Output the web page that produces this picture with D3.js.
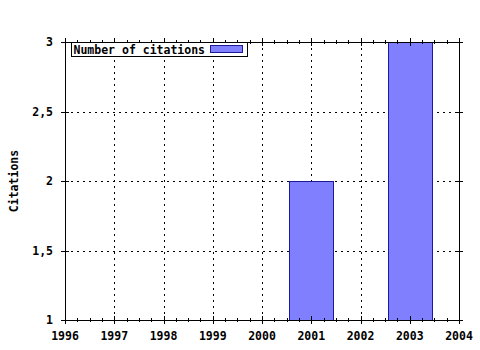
<!DOCTYPE html>
<html>
<head>
<meta charset="UTF-8">
<title>Number of citations</title>
<script src="https://cdnjs.cloudflare.com/ajax/libs/d3/7.8.5/d3.min.js"></script>
<style>
    body { margin: 0; background: #fff; }
    text { font: bold 11.5px "DejaVu Sans Mono", monospace; fill: #000; }
</style>
</head>
<body>
<script>
    // data
    var years = [2001, 2003];
    var citations = [2, 3];
    var xTicks = [1996, 1997, 1998, 1999, 2000, 2001, 2002, 2003, 2004];
    var yTicks = [1, 1.5, 2, 2.5, 3];
    var seriesName = "Number of citations";

    var width = 480, height = 350;
    var margin = {left: 65, right: 21, top: 42, bottom: 30};

    var svg = d3.select("body").append("svg")
        .attr("width", width)
        .attr("height", height);

    var x = d3.scaleLinear().domain([1996, 2004]).range([margin.left, width - margin.right]);
    var y = d3.scaleLinear().domain([1, 3]).range([height - margin.bottom, margin.top]);

    var x0 = x.range()[0], x1 = x.range()[1], y0 = y.range()[0], y1 = y.range()[1];

    // grid
    var grid = svg.append("g").attr("stroke", "#000").attr("stroke-width", 1)
        .attr("stroke-dasharray", "2,4");
    grid.selectAll(".vg").data(xTicks.slice(1, -1)).enter().append("line")
        .attr("x1", function(d) { return Math.round(x(d)) + 0.5; })
        .attr("x2", function(d) { return Math.round(x(d)) + 0.5; })
        .attr("y1", y1).attr("y2", y0);
    grid.selectAll(".hg").data(yTicks.slice(1, -1)).enter().append("line")
        .attr("y1", function(d) { return Math.round(y(d)) + 0.5; })
        .attr("y2", function(d) { return Math.round(y(d)) + 0.5; })
        .attr("x1", x0).attr("x2", x1);

    // bars
    var bw = 0.9;
    svg.selectAll("rect.bar").data(years).enter().append("rect")
        .attr("class", "bar")
        .attr("x", function(d) { return Math.round(x(d - bw / 2)) + 0.5; })
        .attr("width", function(d) { return Math.round(x(d + bw / 2) - x(d - bw / 2)); })
        .attr("y", function(d, i) { return Math.round(y(citations[i])) + 0.5; })
        .attr("height", function(d, i) { return Math.round(y0 - y(citations[i])); })
        .attr("fill", "#8080ff")
        .attr("stroke", "#1a1a9a")
        .attr("stroke-width", 1);

    // minor ticks (x: quarters)
    var minor = [];
    for (var yr = 1996; yr < 2004; yr++) {
        for (var k = 1; k < 4; k++) minor.push(yr + k / 4);
    }
    var tk = svg.append("g").attr("stroke", "#000");
    tk.selectAll(".mb").data(minor).enter().append("line")
        .attr("x1", function(d) { return Math.round(x(d)) + 0.5; })
        .attr("x2", function(d) { return Math.round(x(d)) + 0.5; })
        .attr("y1", y0 - 2).attr("y2", y0 + 2);
    tk.selectAll(".mt").data(minor).enter().append("line")
        .attr("x1", function(d) { return Math.round(x(d)) + 0.5; })
        .attr("x2", function(d) { return Math.round(x(d)) + 0.5; })
        .attr("y1", y1 - 2).attr("y2", y1 + 2);
    tk.selectAll(".jb").data(xTicks).enter().append("line")
        .attr("x1", function(d) { return Math.round(x(d)) + 0.5; })
        .attr("x2", function(d) { return Math.round(x(d)) + 0.5; })
        .attr("y1", y0 - 4).attr("y2", y0 + 4);
    tk.selectAll(".jt").data(xTicks).enter().append("line")
        .attr("x1", function(d) { return Math.round(x(d)) + 0.5; })
        .attr("x2", function(d) { return Math.round(x(d)) + 0.5; })
        .attr("y1", y1 - 4).attr("y2", y1 + 4);
    tk.selectAll(".yl").data(yTicks).enter().append("line")
        .attr("y1", function(d) { return Math.round(y(d)) + 0.5; })
        .attr("y2", function(d) { return Math.round(y(d)) + 0.5; })
        .attr("x1", x0 - 4).attr("x2", x0 + 4);
    tk.selectAll(".yr").data(yTicks).enter().append("line")
        .attr("y1", function(d) { return Math.round(y(d)) + 0.5; })
        .attr("y2", function(d) { return Math.round(y(d)) + 0.5; })
        .attr("x1", x1 - 4).attr("x2", x1 + 4);

    // frame
    svg.append("rect")
        .attr("x", x0 + 0.5).attr("y", y1 + 0.5)
        .attr("width", Math.round(x1 - x0)).attr("height", Math.round(y0 - y1))
        .attr("fill", "none").attr("stroke", "#000");

    // tick labels
    svg.selectAll(".xl").data(xTicks).enter().append("text")
        .attr("x", function(d) { return x(d); })
        .attr("y", y0 + 20)
        .attr("text-anchor", "middle")
        .text(function(d) { return d; });
    svg.selectAll(".ylab").data(yTicks).enter().append("text")
        .attr("x", x0 - 12)
        .attr("y", function(d) { return y(d) + 4; })
        .attr("text-anchor", "end")
        .text(function(d) { return String(d).replace(".", ","); });

    svg.append("text")
        .attr("transform", "translate(18," + ((y0 + y1) / 2) + ") rotate(-90)")
        .attr("text-anchor", "middle")
        .text("Citations");

    // legend
    var lg = svg.append("g").attr("transform", "translate(71.5,42.5)");
    lg.append("rect").attr("width", 176).attr("height", 14)
        .attr("fill", "#fff").attr("stroke", "#000");
    lg.append("text").attr("x", 2).attr("y", 11).text(seriesName);
    lg.append("rect").attr("x", 139).attr("y", 3).attr("width", 32).attr("height", 7)
        .attr("fill", "#8080ff").attr("stroke", "#1a1a9a");
</script>
</body>
</html>
